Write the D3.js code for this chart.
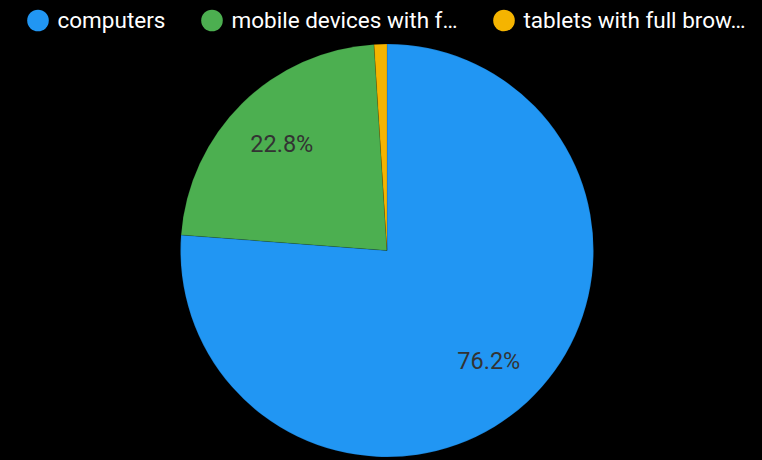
<!DOCTYPE html>
<html>
<head>
<meta charset="utf-8">
<script src="https://cdn.jsdelivr.net/npm/d3@7"></script>
<style>
  body { margin: 0; background: #000; }
  svg { display: block; }
</style>
</head>
<body>
<svg id="chart"></svg>
<script>
// data
const categories = ["computers", "mobile devices with full browsers", "tablets with full browsers"];
const legendLabels = ["computers", "mobile devices with f…", "tablets with full brow…"];
const values = [76.2, 22.8, 1.0];
const colors = ["#2196F3", "#4CAF50", "#F5B400"];

const width = 762, height = 460;
const cx = 387, cy = 250.5, radius = 206.5;

const svg = d3.select("#chart").attr("width", width).attr("height", height);

svg.append("rect").attr("width", width).attr("height", height).attr("fill", "#000");

// pie layout, starts at 12 o'clock and goes clockwise, no sorting
const pie = d3.pie().sort(null).value((d) => d);
const arcs = pie(values);

const arc = d3.arc().innerRadius(0).outerRadius(radius);
const labelArc = d3.arc().innerRadius(radius * 0.725).outerRadius(radius * 0.725);

const g = svg.append("g").attr("transform", "translate(" + cx + "," + cy + ")");

g.selectAll("path")
  .data(arcs)
  .enter()
  .append("path")
  .attr("d", arc)
  .attr("fill", (d, i) => colors[i])
  .attr("stroke", "rgba(0,0,0,0.25)")
  .attr("stroke-width", 0.5);

// procent labels, only on the big slices
g.selectAll("text.pct")
  .data(arcs.filter((d) => d.data >= 5))
  .enter()
  .append("text")
  .attr("class", "pct")
  .attr("transform", (d) => "translate(" + labelArc.centroid(d) + ")")
  .attr("text-anchor", "middle")
  .attr("dy", "0.36em")
  .style("font-family", "Roboto, sans-serif")
  .style("font-size", "23.5px")
  .style("fill", "#333")
  .text((d) => d.data.toFixed(1) + "%");

// legend
const legendX = [38, 212, 504];
const legend = svg
  .selectAll("g.legend")
  .data(categories)
  .enter()
  .append("g")
  .attr("class", "legend")
  .attr("transform", (d, i) => "translate(" + legendX[i] + ",20.5)");

legend
  .append("circle")
  .attr("r", 10.8)
  .attr("fill", (d, i) => colors[i]);

legend
  .append("text")
  .attr("x", 19.5)
  .attr("dy", "0.35em")
  .style("font-family", "Roboto, sans-serif")
  .style("font-size", "22.5px")
  .style("fill", "#fff")
  .text((d, i) => legendLabels[i]);
</script>
</body>
</html>
